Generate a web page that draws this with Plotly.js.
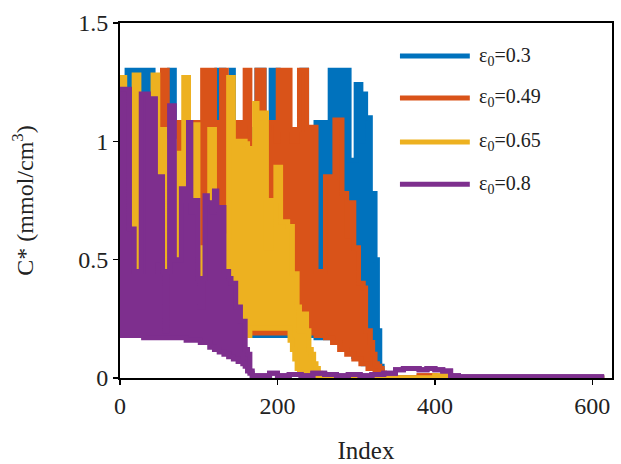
<!DOCTYPE html>
<html>
<head>
<meta charset="utf-8">
<script src="https://cdn.plot.ly/plotly-3.0.1.min.js"></script>
<style>html,body{margin:0;padding:0;background:#fff;}#chart{width:621px;height:464px;}</style>
</head>
<body>
<div id="chart"></div>
<script>
// Series labels and colours
const seriesNames = ["ε<sub>0</sub>=0.3", "ε<sub>0</sub>=0.49", "ε<sub>0</sub>=0.65", "ε<sub>0</sub>=0.8"];
const seriesColors = ["#0072BD", "#D95319", "#EDB120", "#7E2F8E"];

// Each series oscillates quickly between a lower envelope (low) and an upper envelope (high).
// ε0 = 0.3
const idx03 = [0,3,6,9,12,15,18,21,24,27,30,33,36,39,42,45,48,51,54,57,60,63,66,69,72,75,78,81,84,87,90,93,96,99,102,105,108,111,114,117,120,123,126,129,132,135,138,141,144,147,150,153,156,159,162,165,168,171,174,177,180,183,186,189,192,195,198,201,204,207,210,213,216,219,222,225,228,231,234,237,240,243,246,249,252,255,258,261,264,267,270,273,276,279,282,285,288,291,294,297,300,303,306,309,312,315,318,321,324,327,330,333,336,350,400,450,500,550,600,615];
const high03 = [1.05,1.05,1.05,1.3,1.3,1.05,1.05,1.3,1.3,1.05,
 1.05,1.3,1.3,1.3,1.05,1.05,1.1,1.05,1.05,1.05,
 1.05,1.3,1.3,1.05,1.05,1.05,1.05,1.05,1.05,1.05,
 1.05,1.05,1.05,1.05,1.05,1.05,1.05,1.05,1.05,1.05,
 1.05,1.3,1.3,1.3,1.05,1.05,1.05,1.3,1.05,1.05,
 1.05,1.05,1.05,1.05,1.05,1.05,1.05,1.05,1.3,1.3,
 1.3,1.05,1.05,1.05,1.3,1.3,1.3,1.05,1.05,1.05,
 1.05,1.05,1.05,1.05,1.05,1.05,1.05,1.3,1.3,1.05,
 1.05,1.05,1.05,1.08,1.08,1.08,1.08,1.08,1.08,1.3,
 1.05,1.05,1.3,1.05,1.05,1.3,1.3,0.92,0.92,0.92,
 1.24,1.24,1.0,1.2,1.1,1.1,0.78,0.78,0.5,0.2,
 0.05,0.01,0.0,0.0,0.0,0.0,0.0,0.0,0.0,0.0];
const low03 = [0.18,0.18,0.18,0.18,0.18,0.18,0.18,0.18,0.18,0.18,
 0.18,0.18,0.18,0.18,0.18,0.18,0.18,0.18,0.18,0.18,
 0.18,0.18,0.18,0.18,0.18,0.18,0.18,0.18,0.18,0.18,
 0.18,0.18,0.18,0.18,0.18,0.18,0.18,0.18,0.18,0.18,
 0.18,0.18,0.18,0.18,0.18,0.18,0.18,0.18,0.18,0.18,
 0.18,0.18,0.18,0.18,0.18,0.18,0.18,0.18,0.18,0.18,
 0.18,0.18,0.18,0.18,0.18,0.18,0.18,0.18,0.18,0.18,
 0.18,0.18,0.18,0.18,0.18,0.18,0.18,0.18,0.18,0.18,
 0.18,0.18,0.18,0.17,0.17,0.17,0.17,0.17,0.17,0.17,
 0.17,0.15,0.15,0.15,0.15,0.12,0.12,0.12,0.12,0.09,
 0.09,0.09,0.09,0.06,0.06,0.06,0.04,0.04,0.04,0.02,
 0.01,0.0,0.0,0.0,0.0,0.0,0.0,0.0,0.0,0.0];

// ε0 = 0.49
const idx049 = [0,3,6,9,12,15,18,21,24,27,30,33,36,39,42,45,48,51,54,57,60,63,66,69,72,75,78,81,84,87,90,93,96,99,102,105,108,111,114,117,120,123,126,129,132,135,138,141,144,147,150,153,156,159,162,165,168,171,174,177,180,183,186,189,192,195,198,201,204,207,210,213,216,219,222,225,228,231,234,237,240,243,246,249,252,255,258,261,264,267,270,273,276,279,282,285,288,291,294,297,300,303,306,309,312,315,318,321,324,327,330,333,336,339,350,380,400,450,500,550,600,615];
const high049 = [1.08,1.08,1.08,1.08,1.08,1.08,1.08,1.08,1.08,1.08,
 1.08,1.08,1.08,1.08,1.08,1.08,1.08,1.08,1.3,1.3,
 1.08,1.08,1.08,1.08,1.08,1.08,1.08,1.08,1.08,1.08,
 1.08,1.08,1.08,1.08,1.08,1.3,1.08,1.08,1.3,1.3,
 1.08,1.08,1.08,1.3,1.3,1.08,1.08,1.08,1.08,1.08,
 1.08,1.08,1.08,1.3,1.3,1.0,1.0,1.0,1.3,1.3,
 1.3,1.05,1.05,1.08,1.08,1.08,1.0,1.3,1.3,1.05,
 1.3,1.3,1.05,1.0,1.0,1.05,1.3,1.3,1.3,1.05,
 1.06,1.06,1.06,0.45,0.45,0.45,0.45,0.85,0.85,0.85,
 0.85,1.09,1.09,1.09,0.78,0.78,0.6,0.74,0.74,0.55,
 0.55,0.4,0.4,0.38,0.2,0.2,0.15,0.1,0.06,0.05,
 0.04,0.02,0.01,0.0,0.0,0.01,0.0,0.0,0.0,0.0,
 0.0,0.0];
const low049 = [0.19,0.19,0.19,0.19,0.19,0.19,0.19,0.19,0.19,0.19,
 0.19,0.19,0.19,0.19,0.19,0.19,0.19,0.19,0.19,0.19,
 0.19,0.19,0.19,0.19,0.19,0.19,0.19,0.19,0.19,0.19,
 0.19,0.19,0.19,0.19,0.19,0.19,0.19,0.19,0.19,0.19,
 0.19,0.19,0.19,0.19,0.19,0.19,0.19,0.19,0.19,0.19,
 0.19,0.19,0.19,0.19,0.19,0.19,0.19,0.19,0.19,0.19,
 0.19,0.19,0.19,0.19,0.19,0.19,0.19,0.19,0.19,0.19,
 0.19,0.19,0.19,0.19,0.19,0.19,0.19,0.19,0.19,0.19,
 0.19,0.19,0.19,0.18,0.18,0.18,0.18,0.17,0.17,0.17,
 0.15,0.15,0.15,0.12,0.12,0.12,0.1,0.1,0.1,0.08,
 0.08,0.08,0.06,0.06,0.06,0.04,0.04,0.04,0.03,0.03,
 0.03,0.02,0.01,0.0,0.0,0.01,0.0,0.0,0.0,0.0,
 0.0,0.0];

// ε0 = 0.65
const idx065 = [0,3,6,9,12,15,18,21,24,27,30,33,36,39,42,45,48,51,54,57,60,63,66,69,72,75,78,81,84,87,90,93,96,99,102,105,108,111,114,117,120,123,126,129,132,135,138,141,144,147,150,153,156,159,162,165,168,171,174,177,180,183,186,189,192,195,198,201,204,207,210,213,216,219,222,225,228,231,234,237,240,243,246,249,252,255,258,300,350,400,420,500,615];
const high065 = [1.27,1.27,1.0,1.0,1.0,1.0,1.28,1.28,1.0,1.0,
 1.0,1.0,1.05,1.05,1.28,1.28,1.0,1.0,1.05,0.95,
 0.95,1.0,1.0,0.95,0.95,0.95,0.95,1.27,1.27,0.9,
 0.9,1.07,1.07,0.55,0.55,0.55,0.55,0.55,1.05,1.05,
 0.55,0.55,0.55,0.55,0.55,0.6,1.27,1.27,1.0,1.0,
 1.0,1.0,1.0,0.99,0.97,0.97,0.97,1.16,1.1,1.1,
 1.12,1.12,0.55,0.55,0.75,0.75,0.89,0.89,0.66,0.66,
 0.66,0.64,0.64,0.44,0.44,0.3,0.2,0.27,0.27,0.2,
 0.12,0.1,0.06,0.04,0.02,0.01,0.0,0.0,0.0,0.01,
 0.0,0.0,0.0];
const low065 = [0.18,0.18,0.18,0.18,0.18,0.18,0.18,0.18,0.18,0.18,
 0.18,0.18,0.18,0.18,0.18,0.18,0.18,0.18,0.18,0.18,
 0.18,0.18,0.18,0.18,0.18,0.18,0.18,0.18,0.18,0.18,
 0.18,0.18,0.18,0.18,0.18,0.18,0.18,0.18,0.18,0.18,
 0.18,0.18,0.18,0.18,0.18,0.18,0.18,0.18,0.18,0.18,
 0.18,0.18,0.18,0.18,0.18,0.21,0.21,0.21,0.21,0.21,
 0.21,0.21,0.21,0.21,0.21,0.21,0.21,0.21,0.21,0.21,
 0.21,0.21,0.16,0.12,0.08,0.04,0.02,0.01,0.01,0.01,
 0.01,0.01,0.01,0.01,0.01,0.01,0.0,0.0,0.0,0.01,
 0.0,0.0,0.0];

// ε0 = 0.8
const idx08 = [0,3,6,9,12,15,18,21,24,27,30,33,36,39,42,45,48,51,54,57,60,63,66,69,72,75,78,81,84,87,90,93,96,99,102,105,108,111,114,117,120,123,126,129,132,135,138,141,144,147,150,153,156,159,162,165,168,171,180,190,200,215,230,245,260,275,290,305,320,335,350,360,370,380,390,400,410,420,430,450,500,550,600,615];
const high08 = [1.22,1.22,1.22,1.22,0.63,0.63,0.45,0.45,0.45,1.2,
 1.2,1.2,0.45,0.45,1.18,0.5,0.85,0.85,0.45,0.2,
 0.45,1.15,1.15,0.5,0.5,0.5,0.8,0.75,0.75,1.08,
 0.7,0.75,0.75,0.42,0.3,0.42,0.77,0.74,0.74,0.7,
 0.79,0.72,0.72,0.72,0.45,0.45,0.42,0.4,0.4,0.3,
 0.3,0.24,0.24,0.12,0.1,0.03,0.01,0.01,0.01,0.02,
 0.01,0.015,0.01,0.02,0.015,0.01,0.015,0.01,0.015,0.02,
 0.035,0.04,0.04,0.035,0.04,0.035,0.03,0.01,0.005,0.005,
 0.005,0.005,0.005,0.005];
const low08 = [0.18,0.18,0.18,0.18,0.18,0.18,0.18,0.18,0.18,0.18,
 0.17,0.17,0.17,0.17,0.17,0.17,0.17,0.17,0.17,0.17,
 0.17,0.17,0.17,0.17,0.17,0.17,0.17,0.17,0.16,0.16,
 0.16,0.16,0.16,0.16,0.15,0.15,0.15,0.15,0.13,0.13,
 0.12,0.12,0.11,0.11,0.1,0.1,0.09,0.09,0.08,0.08,
 0.07,0.07,0.06,0.05,0.03,0.02,0.01,0.01,0.01,0.02,
 0.01,0.015,0.01,0.02,0.015,0.01,0.015,0.01,0.015,0.02,
 0.035,0.04,0.04,0.035,0.04,0.035,0.03,0.01,0.005,0.005,
 0.005,0.005,0.005,0.005];

const xs = [idx03, idx049, idx065, idx08];
const highs = [high03, high049, high065, high08];
const lows = [low03, low049, low065, low08];

const serif = "Liberation Serif, Times New Roman, serif";

const traces = [];
xs.forEach((x, i) => {
  traces.push({type: "scatter", mode: "lines", x: x, y: lows[i], name: seriesNames[i] + " low",
    line: {color: seriesColors[i], width: 5, shape: "hv"}, showlegend: false, hoverinfo: "skip"});
  traces.push({type: "scatter", mode: "lines", x: x, y: highs[i], name: seriesNames[i],
    fill: "tonexty", fillcolor: seriesColors[i],
    line: {color: seriesColors[i], width: 5, shape: "hv"}, showlegend: false, hoverinfo: "skip"});
});

// manual legend (long sample lines like the reference)
const legendY = [0.907, 0.789, 0.665, 0.546];
const shapes = seriesColors.map((c, i) => ({
  type: "line", xref: "paper", yref: "paper", x0: 0.569, x1: 0.711, y0: legendY[i], y1: legendY[i],
  line: {color: c, width: 5}
}));
const annotations = seriesNames.map((n, i) => ({
  xref: "paper", yref: "paper", x: 0.726, y: legendY[i], xanchor: "left", yanchor: "middle",
  text: n, showarrow: false, font: {family: serif, size: 20, color: "#222"}
}));

const layout = {
  width: 621, height: 464,
  margin: {l: 120, r: 9, t: 23, b: 86},
  paper_bgcolor: "#fff", plot_bgcolor: "#fff",
  font: {family: serif, color: "#222"},
  xaxis: {
    range: [0, 625], tickvals: [0, 200, 400, 600], ticks: "outside", ticklen: 5, tickwidth: 1.5,
    tickcolor: "#000", showline: true, linecolor: "#000", linewidth: 2, mirror: true,
    showgrid: false, zeroline: false, tickfont: {family: serif, size: 24, color: "#222"},
    ticklabelstandoff: 0,
    title: {text: "Index", font: {family: serif, size: 25, color: "#222"}, standoff: 24}
  },
  yaxis: {
    range: [0, 1.5], tickvals: [0, 0.5, 1, 1.5], ticktext: ["0", "0.5", "1", "1.5"],
    ticks: "outside", ticklen: 5, tickwidth: 1.5,
    tickcolor: "#000", showline: true, linecolor: "#000", linewidth: 2, mirror: true,
    showgrid: false, zeroline: false, tickfont: {family: serif, size: 24, color: "#222"},
    title: {text: "C* (mmol/cm<sup>3</sup>)", font: {family: serif, size: 24, color: "#222"}, standoff: 38}
  },
  shapes: shapes,
  annotations: annotations
};

Plotly.newPlot("chart", traces, layout, {staticPlot: true, displayModeBar: false});
</script>
</body>
</html>
